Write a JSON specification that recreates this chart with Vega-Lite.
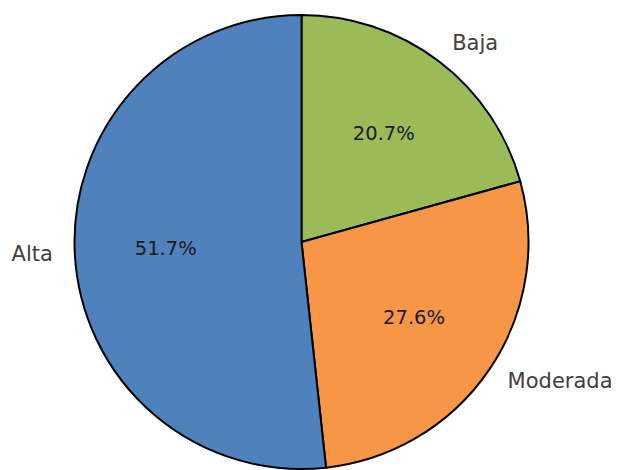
{
  "$schema": "https://vega.github.io/schema/vega-lite/v6.json",
  "autosize": "none",
  "padding": {"left": 0, "top": 0, "right": 16, "bottom": 0},
  "width": 603,
  "height": 484,
  "background": "white",
  "view": {"stroke": null},
  "data": {"values": [
    {"cat": "Baja", "n": 6, "pct": "20.7%", "order": 1},
    {"cat": "Moderada", "n": 8, "pct": "27.6%", "order": 2},
    {"cat": "Alta", "n": 15, "pct": "51.7%", "order": 3}
  ]},
  "encoding": {
    "theta": {"field": "n", "type": "quantitative", "stack": true},
    "order": {"field": "order", "type": "quantitative"}
  },
  "layer": [
    {
      "mark": {"type": "arc", "radius": 227, "stroke": "black", "strokeWidth": 2},
      "encoding": {
        "color": {"field": "cat", "type": "nominal", "legend": null,
          "scale": {"domain": ["Baja", "Moderada", "Alta"], "range": ["#9BBB59", "#F79646", "#4F81BD"]}}
      }
    },
    {
      "mark": {"type": "text", "radius": 136, "font": "DejaVu Sans", "fontSize": 19.5, "color": "#1a1a1a", "align": "center", "baseline": "middle"},
      "encoding": {"text": {"field": "pct"}}
    },
    {
      "mark": {"type": "text", "radius": 249, "font": "DejaVu Sans", "fontSize": 21, "color": "#404040", "align": "left", "baseline": "middle"},
      "encoding": {"text": {"condition": {"test": "datum.cat != 'Alta'", "field": "cat"}, "value": ""}}
    },
    {
      "mark": {"type": "text", "radius": 249, "font": "DejaVu Sans", "fontSize": 21, "color": "#404040", "align": "right", "baseline": "middle"},
      "encoding": {"text": {"condition": {"test": "datum.cat == 'Alta'", "field": "cat"}, "value": ""}}
    }
  ]
}
